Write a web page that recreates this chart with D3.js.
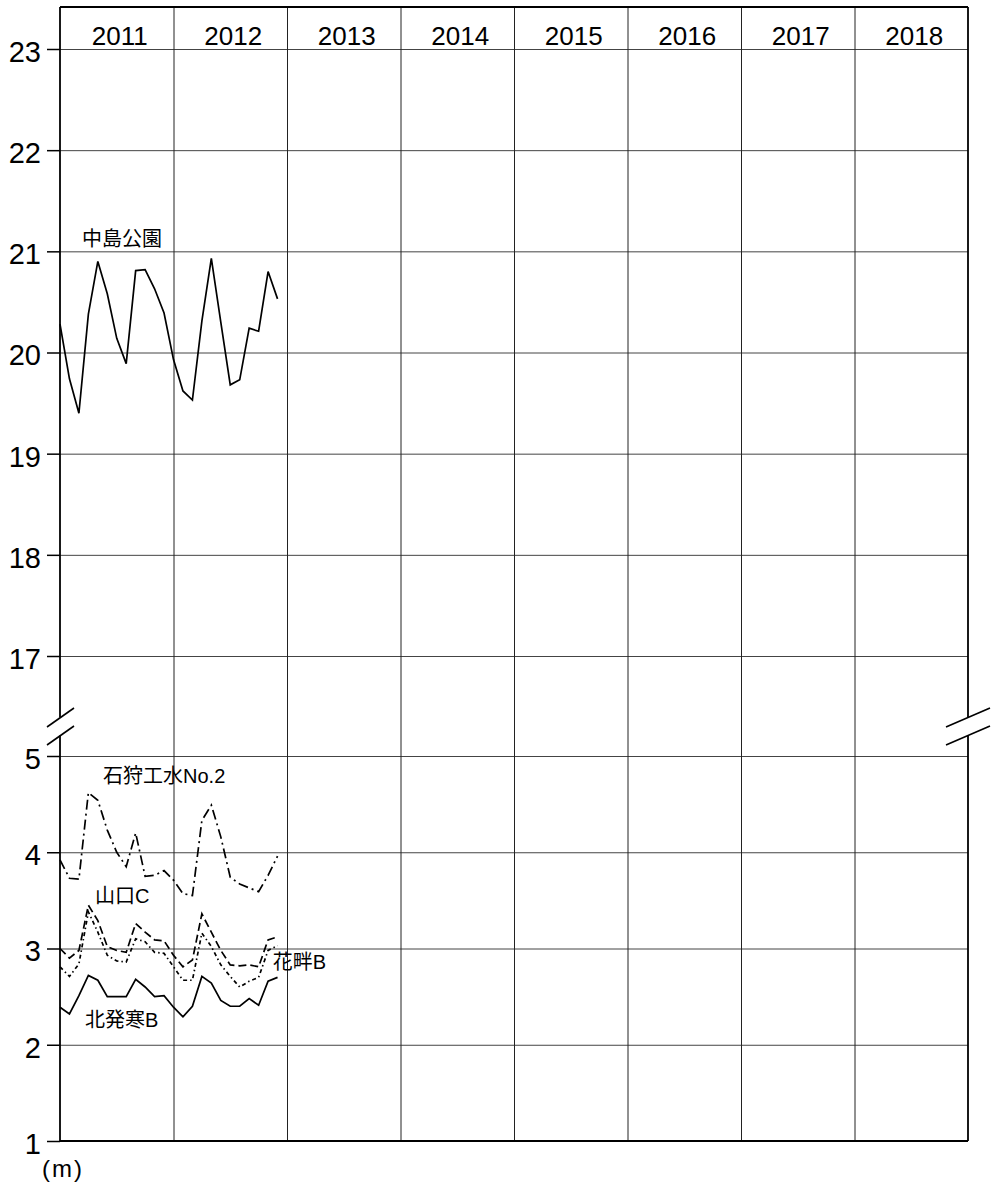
<!DOCTYPE html>
<html>
<head>
<meta charset="utf-8">
<script src="https://cdn.jsdelivr.net/npm/d3@7"></script>
<style>
    body { margin: 0; background: #fff; }
    text { font-family: "Liberation Sans", "Noto Sans CJK JP", sans-serif; fill: #000; }
</style>
</head>
<body>
<svg width="992" height="1188"></svg>
<script>
// groundwater level (m), monthly readings
const years = [2011, 2012, 2013, 2014, 2015, 2016, 2017, 2018];
const months = ["2011-01", "2011-02", "2011-03", "2011-04", "2011-05", "2011-06",
    "2011-07", "2011-08", "2011-09", "2011-10", "2011-11", "2011-12",
    "2012-01", "2012-02", "2012-03", "2012-04", "2012-05", "2012-06",
    "2012-07", "2012-08", "2012-09", "2012-10", "2012-11", "2012-12"];
const upperTicks = [17, 18, 19, 20, 21, 22, 23];
const lowerTicks = [1, 2, 3, 4, 5];

const nakajima = [20.28, 19.74, 19.40, 20.38, 20.90, 20.58, 20.14, 19.89, 20.81, 20.82, 20.63, 20.39,
    19.93, 19.62, 19.53, 20.31, 20.93, 20.30, 19.68, 19.73, 20.24, 20.21, 20.80, 20.53];
const ishikari = [3.92, 3.73, 3.72, 4.62, 4.54, 4.23, 4.00, 3.85, 4.20, 3.75, 3.76, 3.81,
    3.71, 3.57, 3.55, 4.33, 4.49, 4.16, 3.74, 3.67, 3.63, 3.59, 3.76, 3.96];
const yamaguchi = [3.00, 2.90, 2.98, 3.45, 3.29, 3.02, 2.98, 2.96, 3.26, 3.17, 3.09, 3.08,
    2.93, 2.81, 2.88, 3.36, 3.17, 2.98, 2.83, 2.82, 2.83, 2.81, 3.09, 3.12];
const barato = [2.81, 2.71, 2.84, 3.38, 3.17, 2.93, 2.87, 2.86, 3.10, 3.07, 2.96, 2.95,
    2.81, 2.67, 2.67, 3.16, 3.02, 2.83, 2.71, 2.60, 2.66, 2.70, 2.98, 3.03];
const kitahassamu = [2.39, 2.32, 2.51, 2.72, 2.67, 2.50, 2.50, 2.50, 2.68, 2.60, 2.50, 2.51,
    2.39, 2.29, 2.40, 2.71, 2.64, 2.46, 2.40, 2.40, 2.48, 2.41, 2.66, 2.70];

const svg = d3.select("svg");
const plotLeft = 60, plotRight = 968, plotTop = 7, plotBottom = 1141, breakY = 726.5;

const x = d3.scaleLinear().domain([0, years.length * 12]).range([plotLeft, plotRight]);
const yUp = d3.scaleLinear().domain([17, 23]).range([656, 49]);
const yLow = d3.scaleLinear().domain([1, 5]).range([plotBottom, 756]);

function monthIndex(m) {
    const p = m.split("-");
    return (+p[0] - years[0]) * 12 + (+p[1] - 1);
}

const series = [
    {name: "中島公園", values: nakajima, y: yUp, dash: null, lx: 2.33, ly: 21.05},
    {name: "石狩工水No.2", values: ishikari, y: yLow, dash: "10,4,2,4", lx: 4.55, ly: 4.72},
    {name: "山口C", values: yamaguchi, y: yLow, dash: "8,4", lx: 3.7, ly: 3.47},
    {name: "花畔B", values: barato, y: yLow, dash: "4,3,1.5,3", lx: 22.5, ly: 2.785},
    {name: "北発寒B", values: kitahassamu, y: yLow, dash: null, lx: 2.64, ly: 2.18}
];

// horizontal grid
[[yUp, upperTicks], [yLow, lowerTicks]].forEach(function (s) {
    svg.append("g")
        .attr("transform", "translate(" + plotLeft + ",0)")
        .call(d3.axisLeft(s[0]).tickValues(s[1]).tickSize(-(plotRight - plotLeft)).tickFormat(""))
        .call(g => g.select(".domain").remove())
        .selectAll("line").attr("stroke", "#444").attr("stroke-width", 1);
});

// vertical year lines
svg.append("g")
    .attr("transform", "translate(0," + plotTop + ")")
    .call(d3.axisTop(x).tickValues(years.slice(1).map((d, i) => (i + 1) * 12))
        .tickSize(-(plotBottom - plotTop)).tickFormat(""))
    .call(g => g.select(".domain").remove())
    .selectAll("line").attr("stroke", "#222").attr("stroke-width", 1);

// tick labels
[[yUp, upperTicks], [yLow, lowerTicks]].forEach(function (s) {
    const g = svg.append("g")
        .attr("transform", "translate(" + plotLeft + ",0)")
        .call(d3.axisLeft(s[0]).tickValues(s[1]).tickSize(13).tickPadding(6)
            .tickFormat(d3.format("d")));
    g.select(".domain").remove();
    g.selectAll("line").attr("stroke", "#000").attr("stroke-width", 1.5);
    g.selectAll("text")
        .attr("font-size", 29)
        .attr("font-family", "Liberation Sans")
        .attr("dy", "0.43em");
});

// year header
svg.append("g").selectAll("text")
    .data(years)
    .enter().append("text")
    .attr("x", (d, i) => x(i * 12 + 6) + 3)
    .attr("y", 45)
    .attr("text-anchor", "middle")
    .attr("font-size", 26)
    .text(d => d);

// frame with axis break
const gap = 9;
const frame = [
    [plotLeft, plotTop, plotRight, plotTop],
    [plotLeft, plotBottom, plotRight, plotBottom],
    [plotLeft, plotTop, plotLeft, breakY - gap],
    [plotLeft, breakY + gap, plotLeft, plotBottom],
    [plotRight, plotTop, plotRight, breakY - gap],
    [plotRight, breakY + gap, plotRight, plotBottom]
];
svg.append("g").selectAll("line")
    .data(frame)
    .enter().append("line")
    .attr("x1", d => d[0]).attr("y1", d => d[1])
    .attr("x2", d => d[2]).attr("y2", d => d[3])
    .attr("stroke", "#000")
    .attr("stroke-width", 1.8);

// break marks
const slashes = [];
[[plotLeft, 13, 14], [plotRight, 22, 22]].forEach(function (s) {
    [-gap, gap].forEach(function (o) {
        slashes.push([s[0] - s[1], breakY + o + 9.5, s[0] + s[2], breakY + o - 9.5]);
    });
});
svg.append("g").selectAll("line")
    .data(slashes)
    .enter().append("line")
    .attr("x1", d => d[0]).attr("y1", d => d[1])
    .attr("x2", d => d[2]).attr("y2", d => d[3])
    .attr("stroke", "#000")
    .attr("stroke-width", 1.6);

// series
series.forEach(function (s) {
    const line = d3.line()
        .x((d, i) => x(monthIndex(months[i])))
        .y(d => s.y(d));
    svg.append("path")
        .datum(s.values)
        .attr("d", line)
        .attr("fill", "none")
        .attr("stroke", "#000")
        .attr("stroke-width", 1.7)
        .attr("stroke-dasharray", s.dash);
    svg.append("text")
        .attr("x", x(s.lx))
        .attr("y", s.y(s.ly))
        .attr("font-size", 20)
        .text(s.name);
});

// unit
svg.append("text")
    .attr("x", 42)
    .attr("y", 1177)
    .attr("font-size", 24)
    .attr("letter-spacing", 2)
    .text("(m)");
</script>
</body>
</html>
